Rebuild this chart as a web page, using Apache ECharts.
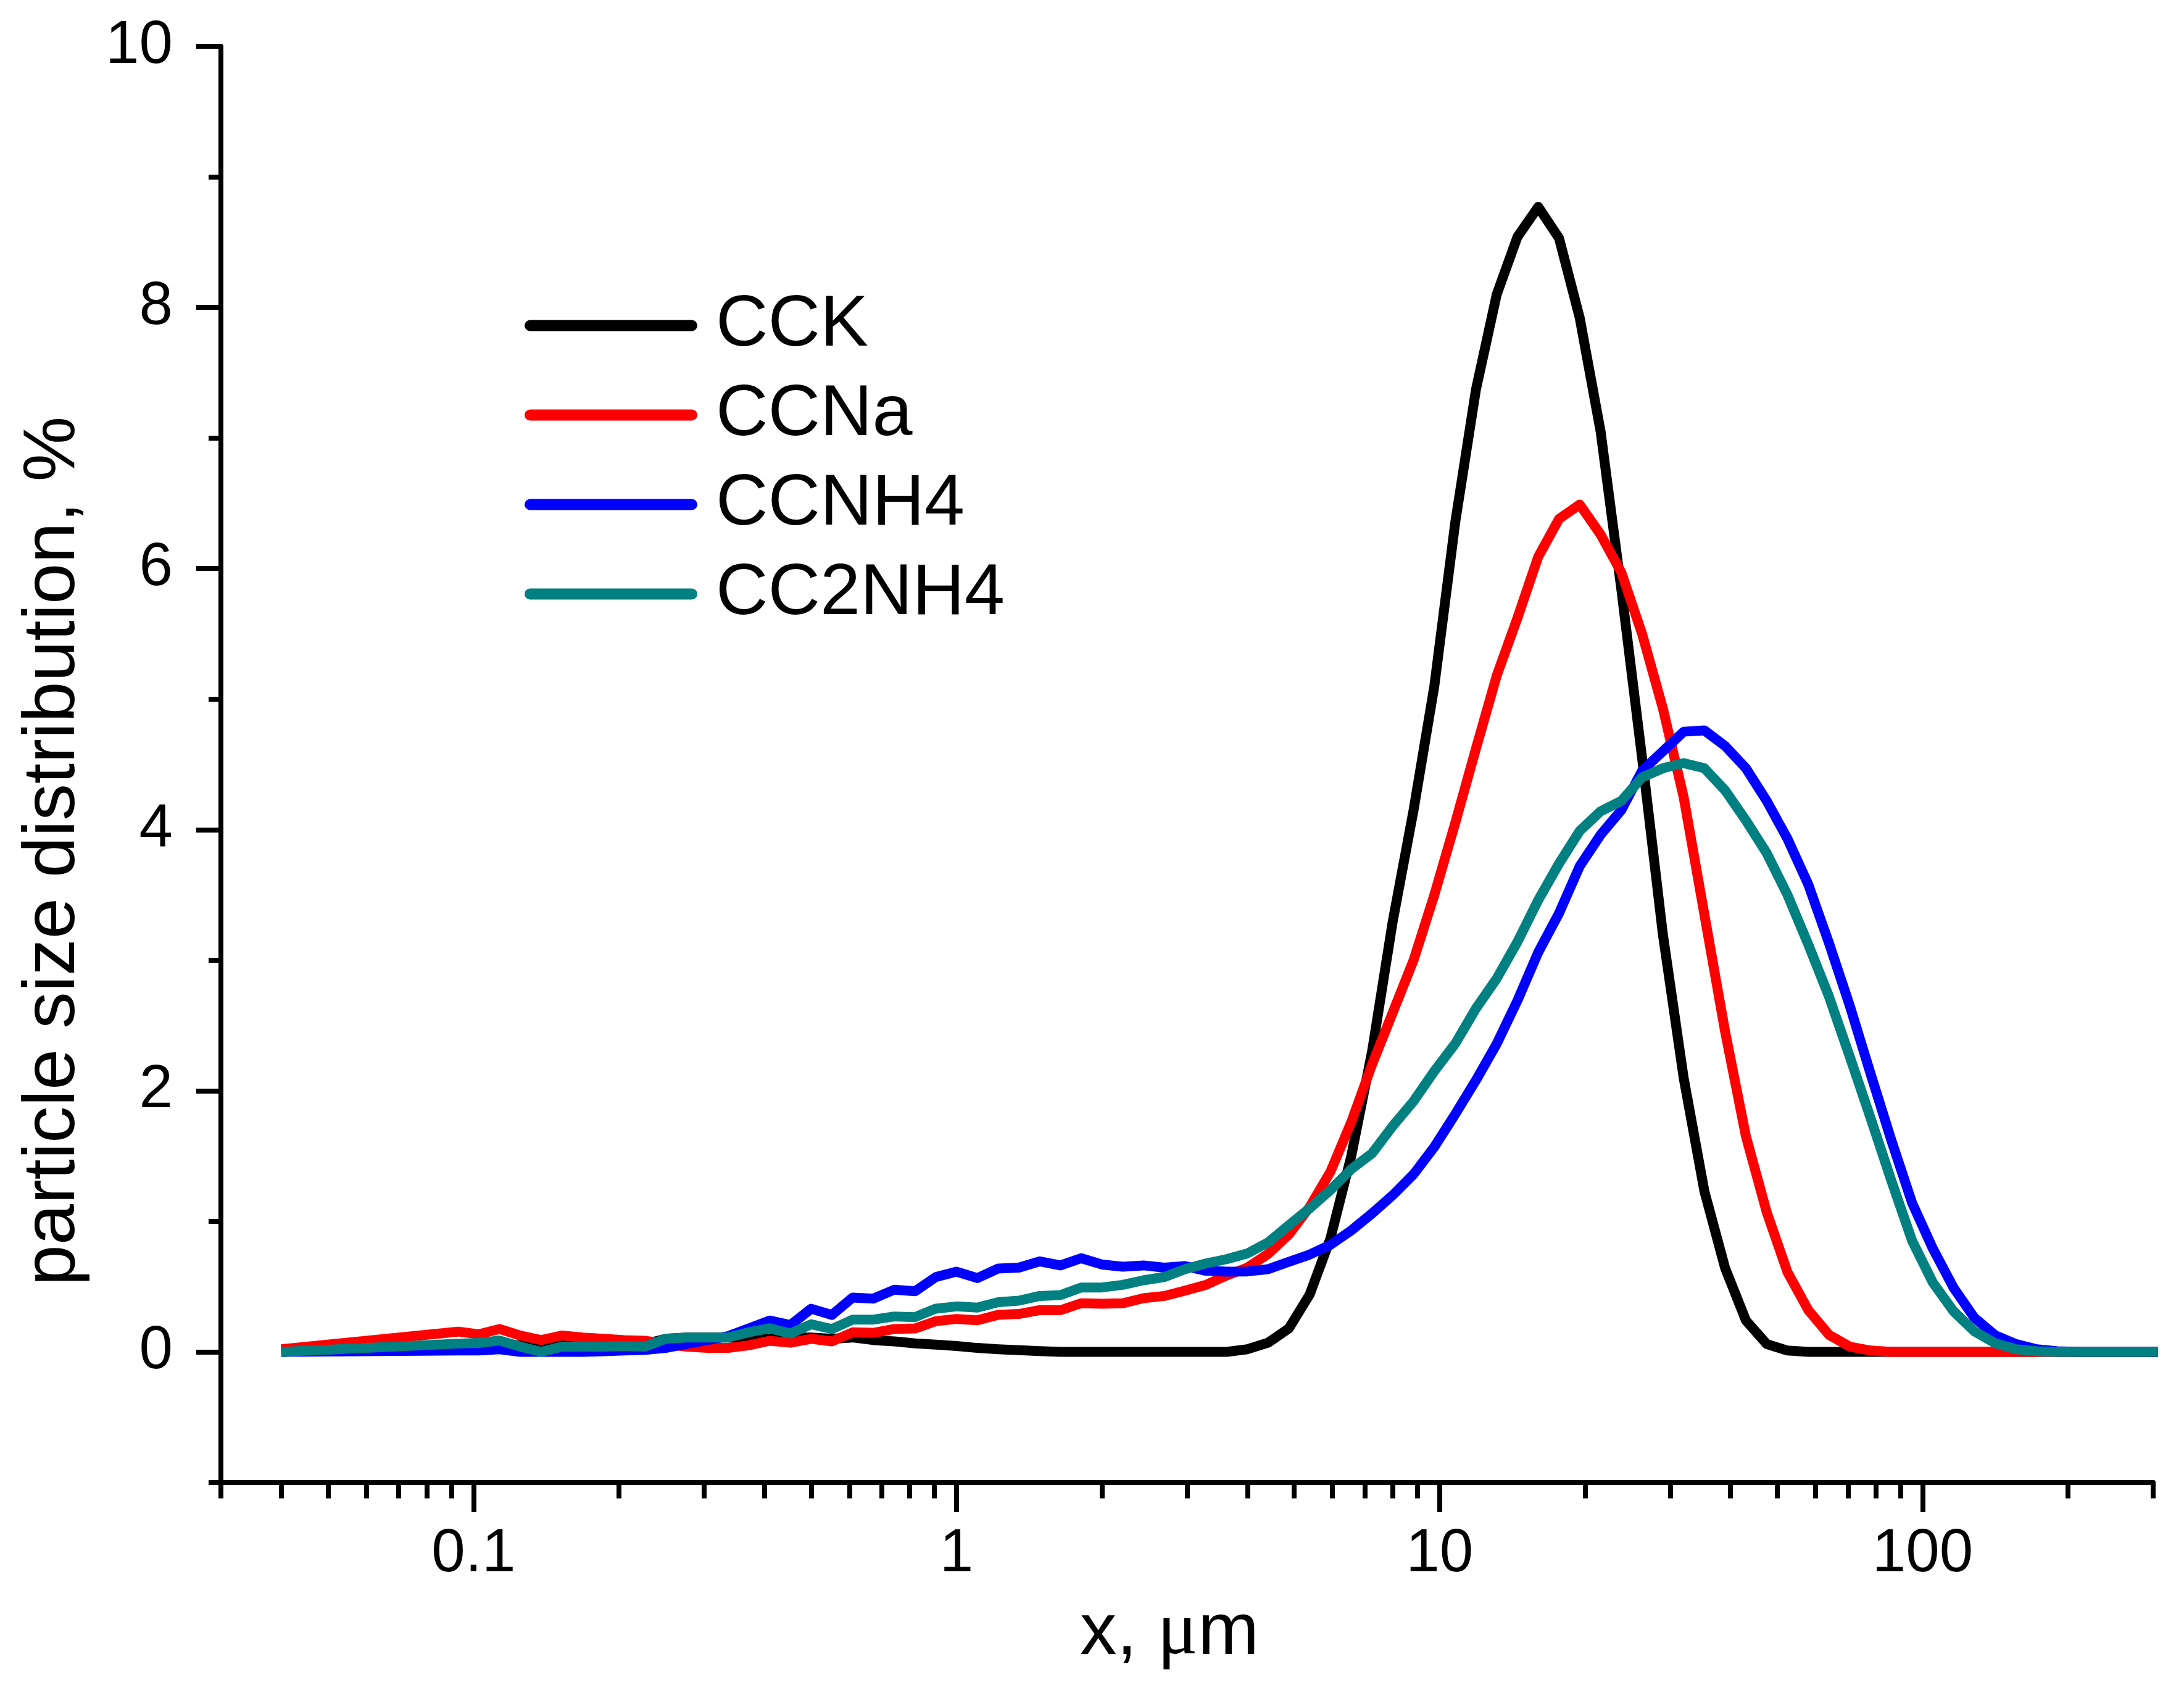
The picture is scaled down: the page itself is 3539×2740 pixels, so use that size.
<!DOCTYPE html>
<html>
<head>
<meta charset="UTF-8">
<title>particle size distribution</title>
<style>
html,body{margin:0;padding:0;background:#fff;}
#main{width:3539px;height:2740px;}
</style>
</head>
<body>
<div id="main"></div>
<script src="https://cdn.jsdelivr.net/npm/echarts@6/dist/echarts.min.js"></script>
<script>
// size classes, um
var sizes = [0.04,
  0.0929, 0.1025, 0.1132, 0.125, 0.138, 0.1524, 0.1682,
  0.1857, 0.2051, 0.2264, 0.25, 0.276, 0.3048, 0.3365,
  0.3715, 0.4102, 0.4529, 0.5, 0.552, 0.6095, 0.6729,
  0.743, 0.8203, 0.9057, 1, 1.104, 1.219, 1.346,
  1.486, 1.641, 1.811, 2, 2.208, 2.438, 2.692,
  2.972, 3.281, 3.623, 4, 4.416, 4.876, 5.384,
  5.944, 6.563, 7.246, 8, 8.833, 9.752, 10.77,
  11.89, 13.13, 14.49, 16, 17.67, 19.5, 21.54,
  23.78, 26.25, 28.98, 32, 35.33, 39.01, 43.07,
  47.55, 52.5, 57.97, 64, 70.66, 78.02, 86.14,
  95.11, 105, 115.9, 128, 141.3, 156, 172.3,
  190.2, 210, 231.9, 256, 282.6, 312.1];

var cck = [0,
  0.05, 0.05, 0.06, 0.05, 0.03, 0.05, 0.05,
  0.05, 0.06, 0.06, 0.10, 0.11, 0.11, 0.11,
  0.10, 0.10, 0.11, 0.11, 0.10, 0.11, 0.09,
  0.08, 0.065, 0.055, 0.045, 0.03, 0.02, 0.013,
  0.006, 0, 0, 0, 0, 0, 0,
  0, 0, 0, 0.02, 0.07, 0.18, 0.44,
  0.87, 1.5, 2.3, 3.3, 4.15, 5.1, 6.35,
  7.37, 8.10, 8.54, 8.77, 8.53, 7.92, 7.05,
  5.84, 4.55, 3.2, 2.1, 1.23, 0.64, 0.24,
  0.06, 0.01, 0, 0, 0, 0, 0,
  0, 0, 0, 0, 0, 0, 0,
  0, 0, 0, 0, 0, 0];

var ccna = [0.02,
  0.155, 0.135, 0.175, 0.125, 0.09, 0.125, 0.11,
  0.10, 0.09, 0.085, 0.06, 0.04, 0.03, 0.03,
  0.05, 0.085, 0.07, 0.10, 0.08, 0.15, 0.146,
  0.175, 0.179, 0.235, 0.252, 0.242, 0.283, 0.29,
  0.319, 0.319, 0.372, 0.368, 0.372, 0.411, 0.428,
  0.469, 0.513, 0.585, 0.645, 0.75, 0.90, 1.11,
  1.38, 1.76, 2.2, 2.6, 3.0, 3.5, 4.05,
  4.62, 5.18, 5.62, 6.09, 6.38, 6.49, 6.26,
  5.97, 5.5, 4.93, 4.25, 3.35, 2.45, 1.65,
  1.07, 0.61, 0.32, 0.13, 0.04, 0.01, 0,
  0, 0, 0, 0, 0, 0, 0,
  0, 0, 0, 0, 0, 0];

var ccnh4 = [0,
  0.01, 0.01, 0.02, 0, 0, 0, 0,
  0.005, 0.01, 0.015, 0.03, 0.06, 0.09, 0.12,
  0.18, 0.24, 0.205, 0.33, 0.283, 0.416, 0.408,
  0.476, 0.464, 0.573, 0.614, 0.565, 0.638, 0.645,
  0.693, 0.662, 0.717, 0.669, 0.652, 0.662, 0.645,
  0.657, 0.621, 0.614, 0.616, 0.633, 0.69, 0.745,
  0.82, 0.93, 1.06, 1.2, 1.36, 1.57, 1.82,
  2.08, 2.36, 2.69, 3.06, 3.36, 3.72, 3.96,
  4.15, 4.45, 4.60, 4.75, 4.76, 4.64, 4.47,
  4.22, 3.93, 3.58, 3.13, 2.65, 2.13, 1.62,
  1.14, 0.79, 0.49, 0.26, 0.127, 0.06, 0.02,
  0.005, 0, 0, 0, 0, 0];

var cc2nh4 = [0,
  0.063, 0.068, 0.087, 0.04, 0, 0.04, 0.04,
  0.04, 0.045, 0.04, 0.10, 0.11, 0.11, 0.11,
  0.15, 0.18, 0.14, 0.211, 0.175, 0.247, 0.247,
  0.271, 0.266, 0.331, 0.348, 0.339, 0.38, 0.392,
  0.428, 0.435, 0.493, 0.493, 0.513, 0.548, 0.573,
  0.633, 0.677, 0.71, 0.754, 0.838, 0.97, 1.10,
  1.24, 1.40, 1.52, 1.73, 1.92, 2.15, 2.36,
  2.63, 2.86, 3.14, 3.46, 3.74, 3.99, 4.14,
  4.22, 4.40, 4.47, 4.51, 4.47, 4.30, 4.07,
  3.82, 3.50, 3.12, 2.72, 2.26, 1.79, 1.31,
  0.85, 0.53, 0.31, 0.157, 0.066, 0.02, 0.005,
  0, 0, 0, 0, 0, 0];

var names = ['CCK', 'CCNa', 'CCNH4', 'CC2NH4'];
var colors = ['#000000', '#ff0000', '#0000ff', '#008080'];

// axis ticks
var xMajor = [0.1, 1, 10, 100];
var xMinor = [0.03, 0.04, 0.05, 0.06, 0.07, 0.08, 0.09,
  0.2, 0.3, 0.4, 0.5, 0.6, 0.7, 0.8, 0.9,
  2, 3, 4, 5, 6, 7, 8, 9,
  20, 30, 40, 50, 60, 70, 80, 90,
  200, 300];
var yMajor = [0, 2, 4, 6, 8, 10];
var yMinor = [-1, 1, 3, 5, 7, 9];

var tickFont = "'Liberation Sans Narrow', 'Liberation Sans', Arial, sans-serif";
var textFont = "'Liberation Sans', Arial, sans-serif";

function pairs(ys) {
  return ys.map(function (y, i) { return [sizes[i], y]; });
}

var myChart = echarts.init(document.getElementById('main'), null, {renderer: 'canvas'});

var series = [cck, ccna, ccnh4, cc2nh4].map(function (ys, i) {
  return {
    name: names[i],
    type: 'line',
    xAxisIndex: 0,
    yAxisIndex: 0,
    data: pairs(ys),
    symbol: 'none',
    showSymbol: false,
    clip: true,
    lineStyle: {color: colors[i], width: 16, join: 'round'},
    itemStyle: {color: colors[i]},
    emphasis: {disabled: true}
  };
});

var axisLine = {show: true, onZero: false, lineStyle: {color: '#000', width: 8}};

myChart.setOption({
  backgroundColor: '#fff',
  animation: false,
  grid: {left: 358, top: 75, width: 3131, height: 2327, containLabel: false},
  legend: {
    orient: 'vertical',
    left: 850,
    top: 469,
    padding: 0,
    itemGap: 28,
    itemWidth: 280,
    itemHeight: 18,
    icon: 'path://M9,0H271A9,9,0,0,1,271,18H9A9,9,0,0,1,9,0Z',
    textStyle: {fontSize: 117, lineHeight: 117, fontFamily: textFont, color: '#000', padding: [0, 0, 0, 25]},
    data: names
  },
  xAxis: [{
    type: 'log',
    logBase: 10,
    min: 0.03,
    max: 300,
    position: 'bottom',
    axisLine: axisLine,
    axisTick: {show: true, customValues: xMajor, length: 48, lineStyle: {color: '#000', width: 8}},
    axisLabel: {
      show: true, customValues: xMajor, margin: 68,
      fontSize: 98, fontFamily: tickFont, color: '#000',
      formatter: function (v) { return v < 1 ? v.toFixed(1) : v.toFixed(0); }
    },
    splitLine: {show: false},
    minorTick: {show: false}
  }, {
    type: 'log',
    logBase: 10,
    min: 0.03,
    max: 300,
    position: 'bottom',
    axisLine: {show: false, onZero: false},
    axisTick: {show: true, customValues: xMinor, length: 26, lineStyle: {color: '#000', width: 8}},
    axisLabel: {show: false},
    splitLine: {show: false}
  }],
  yAxis: [{
    type: 'value',
    min: -1,
    max: 10,
    position: 'left',
    axisLine: axisLine,
    axisTick: {show: true, customValues: yMajor, length: 40, lineStyle: {color: '#000', width: 8}},
    axisLabel: {show: true, customValues: yMajor, margin: 78, fontSize: 98, fontFamily: tickFont, color: '#000'},
    splitLine: {show: false}
  }, {
    type: 'value',
    min: -1,
    max: 10,
    position: 'left',
    axisLine: {show: false, onZero: false},
    axisTick: {show: true, customValues: yMinor, length: 20, lineStyle: {color: '#000', width: 8}},
    axisLabel: {show: false},
    splitLine: {show: false}
  }],
  graphic: [{
    type: 'text',
    x: 87,
    y: 1379,
    rotation: Math.PI / 2,
    style: {
      text: 'particle size distribution, %',
      fontSize: 119,
      fontFamily: textFont,
      fill: '#000',
      align: 'center',
      verticalAlign: 'middle'
    }
  }, {
    type: 'text',
    x: 1895,
    y: 2647,
    style: {
      text: '{a|x, }{b|μ}{a|m}',
      align: 'center',
      verticalAlign: 'middle',
      fill: '#000',
      rich: {
        a: {fontSize: 119, fontFamily: textFont, color: '#000'},
        b: {fontSize: 122, fontFamily: "'Liberation Serif', serif", color: '#000'}
      }
    }
  }],
  series: series
});
</script>
</body>
</html>
